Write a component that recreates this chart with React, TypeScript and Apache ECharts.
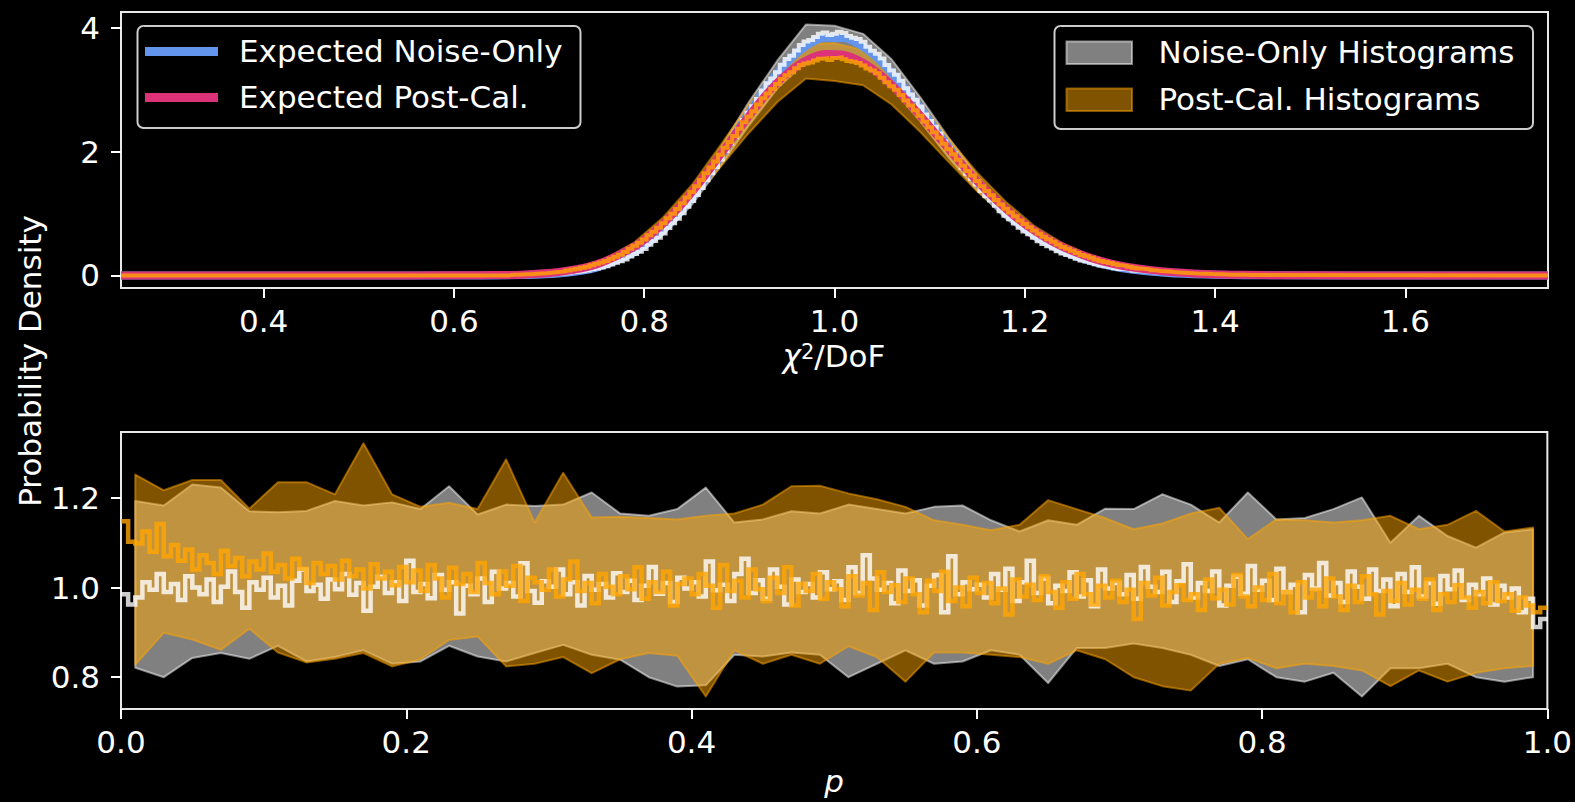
import React, { useEffect, useRef } from 'react';
import * as echarts from 'echarts';

// ---------- tick labels ----------
const chiTicks = [0.4, 0.6, 0.8, 1.0, 1.2, 1.4, 1.6];
const densTicks = [0, 2, 4];
const pTicks = [0, 0.2, 0.4, 0.6, 0.8, 1.0];
const ratioTicks = [0.8, 1.0, 1.2];

// ---------- top panel: expected curves ----------
const expX = [0.25, 0.55, 0.63, 0.67, 0.71, 0.75, 0.79, 0.81, 0.83, 0.85, 0.87, 0.89, 0.91, 0.93, 0.95, 0.97, 0.99, 1.01, 1.03, 1.05, 1.07, 1.09, 1.11, 1.13, 1.15, 1.17, 1.19, 1.21, 1.23, 1.25, 1.27, 1.29, 1.31, 1.35, 1.39, 1.43, 1.47, 1.55, 1.75];
const expNoise = [0, 0, 0.001, 0.0065, 0.033, 0.128, 0.378, 0.596, 0.887, 1.254, 1.681, 2.149, 2.625, 3.068, 3.439, 3.703, 3.835, 3.831, 3.688, 3.435, 3.09, 2.699, 2.282, 1.874, 1.498, 1.163, 0.881, 0.65, 0.468, 0.328, 0.226, 0.152, 0.1, 0.04, 0.015, 0.005, 0.002, 0, 0];
const expPost = [0, 0.001, 0.005, 0.0128, 0.0546, 0.179, 0.468, 0.699, 0.991, 1.344, 1.739, 2.158, 2.574, 2.952, 3.256, 3.467, 3.573, 3.559, 3.433, 3.213, 2.922, 2.584, 2.222, 1.863, 1.521, 1.215, 0.947, 0.721, 0.537, 0.392, 0.28, 0.196, 0.135, 0.06, 0.025, 0.0098, 0.004, 0.001, 0];

// ---------- top panel: mean histograms (bins of 0.005, first centre 0.66) ----------
const chiHistStart = 0.6575;
const chiHistWidth = 0.005;
const chiNoiseHist = [
  0.003, 0.004, 0.006, 0.006, 0.007, 0.011, 0.014, 0.015, 0.018, 0.024,
  0.029, 0.032, 0.038, 0.050, 0.061, 0.068, 0.080, 0.099, 0.114, 0.128,
  0.147, 0.178, 0.205, 0.228, 0.258, 0.305, 0.346, 0.384, 0.428, 0.496,
  0.555, 0.610, 0.676, 0.764, 0.842, 0.915, 1.004, 1.110, 1.202, 1.298,
  1.413, 1.538, 1.648, 1.752, 1.872, 2.010, 2.130, 2.238, 2.365, 2.508,
  2.628, 2.732, 2.850, 2.985, 3.102, 3.180, 3.280, 3.402, 3.492, 3.548,
  3.630, 3.718, 3.775, 3.800, 3.848, 3.902, 3.920, 3.880, 3.900, 3.935,
  3.912, 3.866, 3.838, 3.818, 3.772, 3.690, 3.628, 3.580, 3.502, 3.398,
  3.310, 3.238, 3.142, 3.020, 2.922, 2.838, 2.728, 2.600, 2.492, 2.402,
  2.290, 2.162, 2.052, 1.968, 1.860, 1.740, 1.642, 1.562, 1.468, 1.362,
  1.278, 1.208, 1.126, 1.036, 0.964, 0.906, 0.840, 0.768, 0.710, 0.664,
  0.610, 0.552, 0.508, 0.472, 0.434, 0.390, 0.356, 0.330, 0.301, 0.268,
  0.243, 0.226, 0.205, 0.180, 0.162, 0.150, 0.136, 0.118, 0.106, 0.098,
  0.089, 0.077, 0.069, 0.064, 0.057, 0.049, 0.043, 0.040, 0.035, 0.030,
  0.026, 0.024, 0.022, 0.017, 0.015, 0.014, 0.013, 0.010, 0.009, 0.008,
  0.007, 0.006, 0.005, 0.005, 0.004, 0.003, 0.002
];
const chiPostHist = [
  0.010, 0.012, 0.015, 0.018, 0.020, 0.026, 0.032, 0.036, 0.042, 0.051,
  0.058, 0.067, 0.079, 0.096, 0.110, 0.124, 0.140, 0.165, 0.187, 0.208,
  0.233, 0.270, 0.302, 0.336, 0.377, 0.430, 0.478, 0.526, 0.581, 0.648,
  0.706, 0.770, 0.842, 0.922, 0.995, 1.074, 1.165, 1.260, 1.346, 1.440,
  1.542, 1.648, 1.741, 1.838, 1.948, 2.060, 2.156, 2.252, 2.366, 2.472,
  2.566, 2.652, 2.760, 2.862, 2.938, 3.008, 3.092, 3.172, 3.232, 3.282,
  3.345, 3.398, 3.420, 3.438, 3.470, 3.498, 3.505, 3.478, 3.512, 3.520,
  3.490, 3.462, 3.450, 3.428, 3.390, 3.342, 3.308, 3.262, 3.192, 3.118,
  3.055, 2.996, 2.912, 2.822, 2.742, 2.668, 2.578, 2.480, 2.392, 2.312,
  2.222, 2.126, 2.038, 1.958, 1.866, 1.772, 1.688, 1.612, 1.526, 1.440,
  1.364, 1.294, 1.218, 1.144, 1.076, 1.018, 0.954, 0.888, 0.829, 0.780,
  0.726, 0.672, 0.624, 0.586, 0.543, 0.498, 0.459, 0.430, 0.398, 0.362,
  0.332, 0.310, 0.286, 0.258, 0.234, 0.218, 0.200, 0.180, 0.163, 0.152,
  0.139, 0.124, 0.111, 0.103, 0.094, 0.082, 0.073, 0.068, 0.062, 0.054,
  0.049, 0.045, 0.041, 0.035, 0.031, 0.029, 0.027, 0.022, 0.019, 0.018,
  0.017, 0.013, 0.011, 0.011, 0.010, 0.008, 0.007
];

// ---------- top panel: min/max envelopes (coarse, step 0.03 from 0.25) ----------
const chiBandStart = 0.25;
const chiBandStep = 0.03;
const chiNoiseUp = [
  0, 0, 0, 0, 0, 0, 0, 0, 0, 0, 0, 0, 0.002, 0.006,
  0.030, 0.055, 0.105, 0.215, 0.435, 0.805, 1.350, 2.050, 2.800, 3.470, 4.050, 4.030, 3.900, 3.490,
  2.880, 2.220, 1.610, 1.100, 0.710, 0.440, 0.260, 0.150, 0.085, 0.045, 0.025, 0.012, 0.006, 0.003,
  0, 0, 0, 0, 0, 0, 0, 0, 0
];
const chiNoiseLo = [
  0, 0, 0, 0, 0, 0, 0, 0, 0, 0, 0, 0, 0, 0,
  0.000, 0.012, 0.050, 0.140, 0.330, 0.660, 1.140, 1.760, 2.420, 3.020, 3.450, 3.580, 3.420, 3.030,
  2.490, 1.900, 1.370, 0.920, 0.580, 0.350, 0.190, 0.100, 0.050, 0.022, 0.008, 0.002,
  0, 0, 0, 0, 0, 0, 0, 0, 0, 0, 0
];
const chiPostUp = [
  0, 0, 0, 0, 0, 0, 0, 0, 0, 0, 0, 0, 0.004, 0.009,
  0.025, 0.062, 0.135, 0.280, 0.540, 0.940, 1.460, 2.100, 2.760, 3.320, 3.740, 3.750, 3.640, 3.290,
  2.780, 2.210, 1.660, 1.190, 0.800, 0.520, 0.320, 0.195, 0.110, 0.065, 0.035, 0.020, 0.010, 0.005, 0.002,
  0, 0, 0, 0, 0, 0, 0, 0
];
const chiPostLo = [
  0, 0, 0, 0, 0, 0, 0, 0, 0, 0, 0, 0, 0, 0,
  0.004, 0.025, 0.080, 0.190, 0.410, 0.750, 1.200, 1.750, 2.300, 2.800, 3.180, 3.140, 3.070, 2.760,
  2.320, 1.830, 1.360, 0.960, 0.640, 0.400, 0.240, 0.135, 0.070, 0.035, 0.015, 0.006, 0.002,
  0, 0, 0, 0, 0, 0, 0, 0, 0, 0
];

// ---------- bottom panel: min/max envelopes (bin centres 0.01 .. 0.99) ----------
const pBandStart = 0.01;
const pBandStep = 0.02;
const pNoiseUp = [
  1.193, 1.183, 1.230, 1.223, 1.170, 1.168, 1.171, 1.193, 1.183, 1.190,
  1.175, 1.226, 1.163, 1.185, 1.182, 1.185, 1.212, 1.165, 1.160, 1.175,
  1.223, 1.145, 1.152, 1.170, 1.165, 1.185, 1.175, 1.165, 1.180, 1.183,
  1.150, 1.125, 1.150, 1.140, 1.176, 1.175, 1.208, 1.185, 1.145, 1.212,
  1.152, 1.155, 1.175, 1.201, 1.100, 1.160, 1.115, 1.089, 1.123, 1.130
];
const pNoiseLo = [
  0.821, 0.800, 0.843, 0.854, 0.841, 0.870, 0.835, 0.845, 0.860, 0.830,
  0.835, 0.870, 0.846, 0.835, 0.854, 0.872, 0.850, 0.839, 0.800, 0.779,
  0.782, 0.850, 0.846, 0.855, 0.850, 0.800, 0.830, 0.860, 0.830, 0.835,
  0.860, 0.850, 0.787, 0.865, 0.865, 0.875, 0.865, 0.850, 0.825, 0.840,
  0.800, 0.790, 0.810, 0.757, 0.820, 0.820, 0.830, 0.800, 0.790, 0.800
];
const pPostUp = [
  1.252, 1.217, 1.240, 1.240, 1.176, 1.235, 1.235, 1.208, 1.322, 1.208,
  1.180, 1.189, 1.175, 1.286, 1.145, 1.256, 1.156, 1.158, 1.155, 1.152,
  1.160, 1.165, 1.185, 1.226, 1.227, 1.210, 1.197, 1.180, 1.150, 1.140,
  1.128, 1.140, 1.195, 1.175, 1.155, 1.130, 1.143, 1.165, 1.178, 1.108,
  1.152, 1.150, 1.145, 1.150, 1.160, 1.130, 1.140, 1.171, 1.125, 1.134
];
const pPostLo = [
  0.828, 0.899, 0.884, 0.861, 0.908, 0.855, 0.833, 0.841, 0.854, 0.824,
  0.840, 0.883, 0.891, 0.824, 0.830, 0.845, 0.809, 0.840, 0.854, 0.848,
  0.757, 0.860, 0.830, 0.850, 0.830, 0.869, 0.845, 0.790, 0.855, 0.855,
  0.850, 0.845, 0.830, 0.860, 0.840, 0.800, 0.780, 0.770, 0.830, 0.843,
  0.820, 0.830, 0.825, 0.815, 0.780, 0.815, 0.790, 0.810, 0.820, 0.825
];

// ---------- bottom panel: mean histograms (200 bins on [0,1]) ----------
const pNoiseHist = [
  0.985, 0.962, 0.978, 1.012, 0.995, 1.030, 0.990, 1.008, 0.972, 1.025,
  1.000, 0.985, 1.018, 0.968, 1.002, 1.036, 0.990, 0.955, 1.012, 0.995,
  1.022, 0.978, 1.004, 0.960, 1.015, 1.040, 0.992, 1.006, 0.975, 1.018,
  0.996, 1.030, 0.984, 1.010, 0.948, 1.002, 1.024, 0.988, 1.012, 0.970,
  1.060, 0.990, 1.008, 0.976, 1.028, 0.995, 1.012, 0.942, 1.004, 0.985,
  1.020, 0.968, 1.035, 0.998, 1.010, 0.980, 1.054, 0.992, 0.966, 1.014,
  1.002, 1.040, 0.985, 1.012, 0.960, 1.026, 0.995, 1.008, 0.978, 1.032,
  0.990, 1.015, 0.972, 1.004, 1.046, 0.986, 1.010, 0.968, 1.022, 0.998,
  1.012, 0.980, 1.058, 0.994, 1.006, 0.970, 1.030, 1.064, 0.988, 1.016,
  0.975, 1.040, 1.002, 0.962, 1.018, 0.990, 1.008, 0.978, 1.034, 0.996,
  1.014, 0.972, 1.045, 0.988, 1.072, 1.020, 0.995, 1.010, 0.965, 1.038,
  0.992, 1.016, 0.960, 1.004, 1.028, 0.945, 1.070, 0.985, 1.012, 0.996,
  1.006, 0.978, 1.030, 0.995, 1.042, 0.970, 1.012, 1.060, 0.988, 1.020,
  0.965, 1.004, 0.992, 1.034, 0.980, 1.016, 0.958, 1.040, 0.998, 1.010,
  0.985, 1.028, 0.975, 1.046, 1.002, 0.990, 1.035, 0.968, 1.014, 1.052,
  0.978, 1.010, 0.992, 1.036, 0.960, 1.004, 1.024, 0.986, 1.048, 0.995,
  1.015, 0.972, 1.042, 0.990, 1.006, 0.945, 1.028, 0.998, 1.055, 0.982,
  1.010, 0.968, 1.036, 1.002, 0.975, 1.040, 0.992, 1.018, 0.958, 1.030,
  0.990, 1.045, 0.980, 1.010, 0.964, 1.026, 0.996, 1.038, 0.972, 1.006,
  0.985, 1.020, 0.962, 1.004, 0.978, 0.998, 0.945, 0.975, 0.912, 0.930
];
const pPostHist = [
  1.148, 1.102, 1.098, 1.125, 1.080, 1.142, 1.070, 1.095, 1.060, 1.085,
  1.040, 1.072, 1.055, 1.030, 1.082, 1.048, 1.066, 1.025, 1.058, 1.040,
  1.076, 1.035, 1.050, 1.020, 1.064, 1.042, 1.010, 1.055, 1.030, 1.048,
  1.018, 1.060, 1.025, 1.040, 0.998, 1.052, 1.020, 1.035, 1.005, 1.046,
  1.012, 1.038, 0.992, 1.050, 1.020, 0.978, 1.044, 1.008, 1.030, 0.990,
  1.055, 1.010, 0.985, 1.036, 1.004, 1.048, 0.970, 1.022, 1.012, 0.995,
  1.040, 0.980, 1.018, 1.058, 0.992, 1.010, 0.965, 1.030, 1.002, 0.985,
  1.025, 0.996, 1.045, 0.975, 1.012, 0.990, 1.035, 0.960, 1.008, 1.020,
  0.985, 1.030, 1.004, 0.955, 1.050, 0.992, 1.015, 0.978, 1.040, 0.996,
  0.970, 1.022, 0.988, 1.045, 0.960, 1.008, 0.992, 1.030, 0.975, 1.012,
  0.996, 0.958, 1.025, 0.982, 1.010, 0.950, 1.034, 0.990, 1.005, 0.968,
  1.020, 0.985, 0.945, 1.015, 0.992, 1.035, 0.970, 1.000, 0.958, 1.022,
  0.988, 1.010, 0.965, 0.998, 0.940, 1.018, 0.980, 1.006, 0.972, 1.025,
  0.990, 0.955, 1.012, 0.975, 1.030, 0.985, 0.962, 1.004, 0.978, 1.015,
  0.968, 0.995, 0.930, 1.010, 0.982, 1.022, 0.960, 0.990, 1.005, 0.972,
  0.985, 0.950, 1.018, 0.976, 0.995, 0.962, 1.028, 0.980, 0.958, 1.000,
  0.972, 1.030, 0.965, 0.990, 0.945, 1.012, 0.978, 0.995, 0.958, 1.020,
  0.980, 0.950, 1.004, 0.968, 1.025, 0.985, 0.940, 0.992, 0.970, 1.010,
  0.962, 0.995, 0.975, 1.018, 0.950, 0.985, 0.968, 1.005, 0.978, 0.955,
  0.990, 0.965, 1.012, 0.970, 0.985, 0.948, 0.978, 0.960, 0.945, 0.955
];

// ---------- colours ----------
const C_BLUE = '#6495ed';
const C_PINK = '#dc3278';
const C_WHITE_STEP = 'rgba(255,255,255,0.8)';
const C_ORANGE_STEP = 'rgba(255,165,0,0.8)';
const C_GREY_BAND = 'rgba(255,255,255,0.5)';
const C_GOLD_BAND = 'rgba(255,165,0,0.5)';
const FONT = '"DejaVu Sans", "Liberation Sans", sans-serif';

function bandSeries(name: string, x0: number, dx: number, lo: number[], hi: number[], color: string, xi: number, z: number) {
  const xs = lo.map((_, i) => x0 + i * dx);
  return {
    type: 'custom',
    name,
    xAxisIndex: xi,
    yAxisIndex: xi,
    z,
    silent: true,
    clip: true,
    data: [[xs[Math.floor(xs.length / 2)], (lo[0] + hi[0]) / 2]],
    renderItem: (_params: any, api: any) => {
      const up = xs.map((x, i) => api.coord([x, hi[i]]));
      const dn = xs.map((x, i) => api.coord([x, lo[i]]));
      const pts = up.concat(dn.slice().reverse());
      return {
        type: 'polygon',
        shape: { points: pts },
        style: { fill: color, stroke: color, lineWidth: 2, lineJoin: 'round' },
      };
    },
  };
}

function stepTop(vals: number[]) {
  const d: number[][] = [[0.25, 0]];
  vals.forEach((v, i) => d.push([chiHistStart + i * chiHistWidth, v]));
  d.push([chiHistStart + vals.length * chiHistWidth, 0]);
  d.push([1.75, 0]);
  return d;
}

function stepBottom(vals: number[]) {
  const w = 1 / vals.length;
  const d: number[][] = vals.map((v, i) => [i * w, v]);
  d.push([1, vals[vals.length - 1]]);
  return d;
}

function lineSeries(name: string, data: number[][], color: string, width: number, xi: number, z: number, step?: string, smooth?: number) {
  return {
    type: 'line',
    name,
    xAxisIndex: xi,
    yAxisIndex: xi,
    data,
    z,
    silent: true,
    showSymbol: false,
    symbol: 'none',
    step: step || false,
    smooth: smooth || false,
    clip: true,
    lineStyle: { color, width, join: 'miter', cap: 'butt' },
  };
}

const axisCommon = {
  axisLine: { show: false, onZero: false },
  splitLine: { show: false },
  axisTick: { show: true, inside: false, length: 10, lineStyle: { color: '#ffffff', width: 2 } },
};

export default function App() {
  const ref = useRef<HTMLDivElement>(null);
  useEffect(() => {
    document.body.style.margin = '0';
    document.body.style.background = '#000';
    const chart = echarts.init(ref.current as HTMLDivElement, null, { renderer: 'svg' });
    const labelStyle = { color: '#ffffff', fontSize: 31, fontFamily: FONT, lineHeight: 30 };
    const option: any = {
      animation: false,
      backgroundColor: '#000000',
      grid: [
        { left: 121, top: 12, width: 1427, height: 276, show: true, borderColor: '#e8e8e8', borderWidth: 2, backgroundColor: 'transparent' },
        { left: 121, top: 432, width: 1427, height: 277, show: true, borderColor: '#e8e8e8', borderWidth: 2, backgroundColor: 'transparent' },
      ],
      xAxis: [
        {
          type: 'value', gridIndex: 0, min: 0.25, max: 1.75, ...axisCommon,
          axisTick: { ...axisCommon.axisTick, customValues: chiTicks },
          axisLabel: { ...labelStyle, margin: 18, customValues: chiTicks, formatter: (v: number) => v.toFixed(1) },
        },
        {
          type: 'value', gridIndex: 1, min: 0, max: 1, interval: 0.2, ...axisCommon,
          axisTick: { ...axisCommon.axisTick, customValues: pTicks },
          axisLabel: { ...labelStyle, margin: 18, customValues: pTicks, formatter: (v: number) => v.toFixed(1) },
        },
      ],
      yAxis: [
        {
          type: 'value', gridIndex: 0, min: -0.2025, max: 4.2525, ...axisCommon,
          axisTick: { ...axisCommon.axisTick, customValues: densTicks },
          axisLabel: { ...labelStyle, margin: 21, customValues: densTicks, formatter: (v: number) => String(Math.round(v)) },
        },
        {
          type: 'value', gridIndex: 1, min: 0.729, max: 1.347, ...axisCommon,
          axisTick: { ...axisCommon.axisTick, customValues: ratioTicks },
          axisLabel: { ...labelStyle, margin: 21, customValues: ratioTicks, formatter: (v: number) => v.toFixed(1) },
        },
      ],
      series: [
        bandSeries('Noise-Only Histograms', chiBandStart, chiBandStep, chiNoiseLo, chiNoiseUp, C_GREY_BAND, 0, 1),
        bandSeries('Post-Cal. Histograms', chiBandStart, chiBandStep, chiPostLo, chiPostUp, C_GOLD_BAND, 0, 2),
        lineSeries('Expected Noise-Only', expX.map((x, i) => [x, expNoise[i]]), C_BLUE, 8, 0, 3, undefined, 0.3),
        lineSeries('Noise-Only mean', stepTop(chiNoiseHist), C_WHITE_STEP, 4, 0, 4, 'end'),
        lineSeries('Expected Post-Cal.', expX.map((x, i) => [x, expPost[i]]), C_PINK, 8, 0, 5, undefined, 0.3),
        lineSeries('Post-Cal. mean', stepTop(chiPostHist), C_ORANGE_STEP, 4, 0, 6, 'end'),

        bandSeries('Noise-Only Histograms p', pBandStart, pBandStep, pNoiseLo, pNoiseUp, C_GREY_BAND, 1, 1),
        bandSeries('Post-Cal. Histograms p', pBandStart, pBandStep, pPostLo, pPostUp, C_GOLD_BAND, 1, 2),
        lineSeries('Noise-Only p mean', stepBottom(pNoiseHist), C_WHITE_STEP, 4.5, 1, 4, 'end'),
        lineSeries('Post-Cal. p mean', stepBottom(pPostHist), C_ORANGE_STEP, 4.5, 1, 6, 'end'),
      ],
      graphic: [
        // left legend
        { type: 'rect', z: 100, shape: { x: 137.5, y: 26, width: 443, height: 102, r: 6 }, style: { fill: 'rgba(0,0,0,0.8)', stroke: '#cccccc', lineWidth: 2 } },
        { type: 'line', z: 101, shape: { x1: 145, y1: 51.5, x2: 218, y2: 51.5 }, style: { stroke: C_BLUE, lineWidth: 9 } },
        { type: 'line', z: 101, shape: { x1: 145, y1: 97.5, x2: 218, y2: 97.5 }, style: { stroke: C_PINK, lineWidth: 9 } },
        { type: 'text', z: 101, x: 239, y: 51, style: { text: 'Expected Noise-Only', fill: '#ffffff', fontSize: 31, fontFamily: FONT, align: 'left', verticalAlign: 'middle' } },
        { type: 'text', z: 101, x: 239, y: 97, style: { text: 'Expected Post-Cal.', fill: '#ffffff', fontSize: 31, fontFamily: FONT, align: 'left', verticalAlign: 'middle' } },
        // right legend
        { type: 'rect', z: 100, shape: { x: 1054.5, y: 26, width: 478.5, height: 103, r: 6 }, style: { fill: 'rgba(0,0,0,0.8)', stroke: '#cccccc', lineWidth: 2 } },
        { type: 'rect', z: 101, shape: { x: 1066.5, y: 41.5, width: 65.5, height: 22.5 }, style: { fill: C_GREY_BAND, stroke: C_GREY_BAND, lineWidth: 2 } },
        { type: 'rect', z: 101, shape: { x: 1066.5, y: 88.5, width: 65.5, height: 22.5 }, style: { fill: C_GOLD_BAND, stroke: C_GOLD_BAND, lineWidth: 2 } },
        { type: 'text', z: 101, x: 1158.5, y: 52, style: { text: 'Noise-Only Histograms', fill: '#ffffff', fontSize: 31, fontFamily: FONT, align: 'left', verticalAlign: 'middle' } },
        { type: 'text', z: 101, x: 1158.5, y: 99, style: { text: 'Post-Cal. Histograms', fill: '#ffffff', fontSize: 31, fontFamily: FONT, align: 'left', verticalAlign: 'middle' } },
        // axis titles
        {
          type: 'text', z: 101, x: 30, y: 361, rotation: Math.PI / 2,
          style: { text: 'Probability Density', fill: '#ffffff', fontSize: 31, fontFamily: FONT, align: 'center', verticalAlign: 'middle' },
        },
        {
          type: 'text', z: 101, x: 834, y: 356,
          style: {
            text: '{i|χ}{s|2}{n|/DoF}', fill: '#ffffff', align: 'center', verticalAlign: 'middle',
            fontSize: 31, fontFamily: FONT,
            rich: {
              i: { fontStyle: 'italic', fontSize: 31, fontFamily: FONT, fill: '#ffffff', lineHeight: 30 },
              s: { fontSize: 21, fontFamily: FONT, fill: '#ffffff', lineHeight: 19, verticalAlign: 'top' },
              n: { fontSize: 31, fontFamily: FONT, fill: '#ffffff', lineHeight: 30 },
            },
          },
        },
        {
          type: 'text', z: 101, x: 834, y: 781,
          style: { text: 'p', fill: '#ffffff', fontSize: 31, fontStyle: 'italic', fontFamily: FONT, align: 'center', verticalAlign: 'middle' },
        },
      ],
    };
    chart.setOption(option);
    return () => chart.dispose();
  }, []);
  return <div ref={ref} style={{ width: 1575, height: 802, background: '#000' }} />;
}
